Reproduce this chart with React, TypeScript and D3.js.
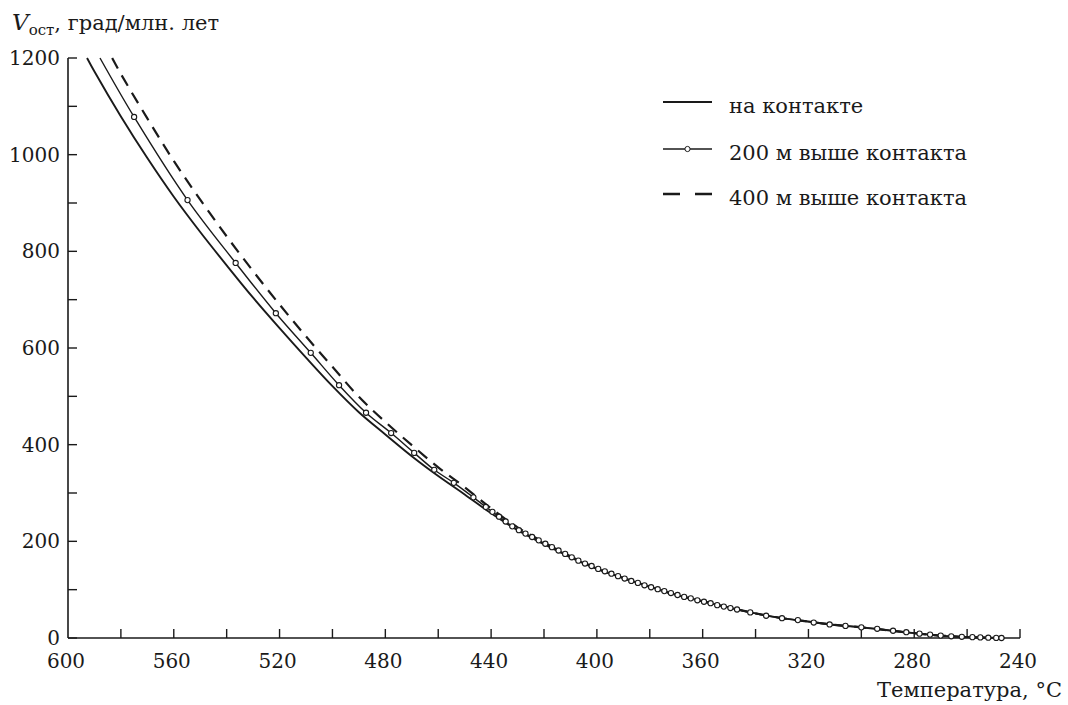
import React, { useEffect, useRef } from 'react';
import * as d3 from 'd3';

// "на контакте"
const contactT = [592.8, 590, 580, 570, 560, 550, 540, 530, 520, 510, 500, 490, 480, 470, 460, 450, 440, 430, 420, 410, 400, 390, 380, 370, 360, 350, 340, 330, 320, 310, 300, 290, 280, 270, 260, 250, 246];
const contactV = [1200, 1172, 1079, 993, 913, 840, 771, 704, 641, 580, 521, 467, 421, 376, 335, 297, 258, 223, 194, 167, 143, 124, 106, 89, 76, 63, 51, 41, 34, 27, 22, 16, 10, 5, 2, 0.5, 0];

// "200 м выше контакта" (each point carries a marker, except the first)
const above200T = [587.9, 575, 554.8, 536.6, 521.4, 508.2, 497.5, 487.3, 477.8, 469.1, 461.5, 454.1, 446.7,
  442, 439.5, 437, 434.5, 432, 429.5, 427, 424.5, 422, 419.5, 417, 414.5, 412, 409.5, 407, 404.5, 402, 399.5,
  397, 394.5, 392, 389.5, 387, 384.5, 382, 379.5, 377, 374.5, 372, 369.5, 367, 364.5, 362, 359.5, 357, 354.5,
  352, 349.5, 347, 342, 336, 330, 324, 318, 312, 306, 300, 294, 288, 283, 278, 274, 270, 266, 262, 258, 255, 252, 249, 247];
const above200V = [1200, 1078, 906, 776, 672, 590, 523, 466, 424, 383, 348, 321, 291,
  271, 261, 251, 241, 231, 223, 216, 209, 202, 195, 188, 181, 174, 167, 160, 154, 149, 143,
  138, 133, 128, 123, 118, 114, 109, 105, 101, 97, 93, 89, 85, 82, 78, 75, 72, 68,
  65, 62, 59, 53, 46, 41, 37, 32, 28, 25, 22, 19, 15, 12, 9, 7, 5, 3.5, 2.5, 1.8, 1.2, 0.6, 0.2, 0];

// "400 м выше контакта"
const above400T = [583.3, 580, 570, 560, 550, 540, 530, 520, 510, 500, 490, 480, 470, 460, 450, 440, 430, 420, 410, 400, 390, 380, 370, 360, 350, 340, 330, 320, 310, 300, 290, 280, 270, 260, 250, 246];
const above400V = [1200, 1167, 1075, 987, 907, 831, 759, 690, 624, 561, 499, 447, 399, 353, 312, 268, 229, 198, 169, 144, 124, 106, 89, 76, 63, 51, 41, 34, 27, 22, 16, 10, 5, 2, 0.5, 0];

const xTickLabels = [600, 560, 520, 480, 440, 400, 360, 320, 280, 240];
const yTickLabels = [0, 200, 400, 600, 800, 1000, 1200];
const legendLabels = ['на контакте', '200 м выше контакта', '400 м выше контакта'];

const FONT = '"DejaVu Serif", serif';
const INK = '#1a1a1a';

const App: React.FC = () => {
  const ref = useRef<SVGSVGElement | null>(null);
  const width = 1068;
  const height = 705;

  useEffect(() => {
    if (!ref.current) return;
    const svg = d3.select(ref.current);
    svg.selectAll('*').remove();

    const x = d3.scaleLinear().domain([600, 240]).range([68, 1020]);
    const y = d3.scaleLinear().domain([0, 1200]).range([638, 58]);

    svg.append('rect').attr('width', width).attr('height', height).attr('fill', '#fff');

    // axes lines
    svg.append('line')
      .attr('x1', x(600)).attr('x2', x(600)).attr('y1', y(0)).attr('y2', y(1200))
      .attr('stroke', INK).attr('stroke-width', 1.6);
    svg.append('line')
      .attr('x1', x(600)).attr('x2', x(240)).attr('y1', y(0)).attr('y2', y(0))
      .attr('stroke', INK).attr('stroke-width', 1.6);

    // inward ticks
    svg.append('g').selectAll('line')
      .data(d3.range(0, 1201, 100))
      .join('line')
      .attr('x1', x(600)).attr('x2', x(600) + 9)
      .attr('y1', d => y(d)).attr('y2', d => y(d))
      .attr('stroke', INK).attr('stroke-width', 1.4);
    svg.append('g').selectAll('line')
      .data(d3.range(240, 600, 20))
      .join('line')
      .attr('x1', d => x(d)).attr('x2', d => x(d))
      .attr('y1', y(0)).attr('y2', y(0) - 9)
      .attr('stroke', INK).attr('stroke-width', 1.4);

    // tick labels
    svg.append('g').selectAll('text')
      .data(yTickLabels)
      .join('text')
      .attr('x', 60).attr('y', d => y(d)).attr('dy', '0.35em')
      .attr('text-anchor', 'end')
      .style('font-family', FONT).style('font-size', '20px').attr('fill', INK)
      .text(d => d);
    svg.append('g').selectAll('text')
      .data(xTickLabels)
      .join('text')
      .attr('x', d => x(d) - 2).attr('y', 668)
      .attr('text-anchor', 'middle')
      .style('font-family', FONT).style('font-size', '20px').attr('fill', INK)
      .text(d => d);

    // axis titles
    const yTitle = svg.append('text')
      .attr('x', 12).attr('y', 30)
      .style('font-family', FONT).style('font-size', '21px').attr('fill', INK);
    yTitle.append('tspan').style('font-style', 'italic').style('font-size', '23px').text('V');
    yTitle.append('tspan').attr('dy', 5).style('font-size', '15px').text('ост');
    yTitle.append('tspan').attr('dy', -5).text(', град/млн. лет');

    svg.append('text')
      .attr('x', 1062).attr('y', 697)
      .attr('text-anchor', 'end')
      .style('font-family', FONT).style('font-size', '21px').attr('fill', INK)
      .text('Температура, °C');

    const line = d3.line<[number, number]>()
      .x(d => x(d[0]))
      .y(d => y(d[1]))
      .curve(d3.curveCatmullRom.alpha(0.5));

    const contact = contactT.map((t, i) => [t, contactV[i]] as [number, number]);
    const a200 = above200T.map((t, i) => [t, above200V[i]] as [number, number]);
    const a400 = above400T.map((t, i) => [t, above400V[i]] as [number, number]);

    svg.append('path').datum(a400)
      .attr('d', line).attr('fill', 'none').attr('stroke', INK)
      .attr('stroke-width', 2.2).attr('stroke-dasharray', '12,8');
    svg.append('path').datum(contact)
      .attr('d', line).attr('fill', 'none').attr('stroke', INK).attr('stroke-width', 1.9);
    svg.append('path').datum(a200)
      .attr('d', line).attr('fill', 'none').attr('stroke', INK).attr('stroke-width', 1.4);
    svg.append('g').selectAll('circle')
      .data(a200.slice(1))
      .join('circle')
      .attr('cx', d => x(d[0])).attr('cy', d => y(d[1]))
      .attr('r', 2.6).attr('fill', '#fff').attr('stroke', INK).attr('stroke-width', 1.1);

    // legend
    const lx1 = 663, lx2 = 712;
    const rows = [102, 149, 194];
    const lg = svg.append('g');
    lg.append('line').attr('x1', lx1).attr('x2', lx2).attr('y1', rows[0]).attr('y2', rows[0])
      .attr('stroke', INK).attr('stroke-width', 2.2);
    lg.append('line').attr('x1', lx1).attr('x2', lx2).attr('y1', rows[1]).attr('y2', rows[1])
      .attr('stroke', INK).attr('stroke-width', 1.3);
    lg.append('circle').attr('cx', (lx1 + lx2) / 2).attr('cy', rows[1]).attr('r', 2.6)
      .attr('fill', '#fff').attr('stroke', INK).attr('stroke-width', 1);
    lg.append('line').attr('x1', lx1).attr('x2', lx2).attr('y1', rows[2]).attr('y2', rows[2])
      .attr('stroke', INK).attr('stroke-width', 2.6).attr('stroke-dasharray', '17,15');
    lg.selectAll('text')
      .data(legendLabels)
      .join('text')
      .attr('x', 729).attr('y', (_, i) => rows[i] + 5).attr('dy', '0.3em')
      .style('font-family', FONT).style('font-size', '21px').attr('fill', INK)
      .text(d => d);
  }, []);

  return (
    <svg ref={ref} width={width} height={height}
      style={{ position: 'absolute', left: 0, top: 0, display: 'block' }} />
  );
};

export default App;
